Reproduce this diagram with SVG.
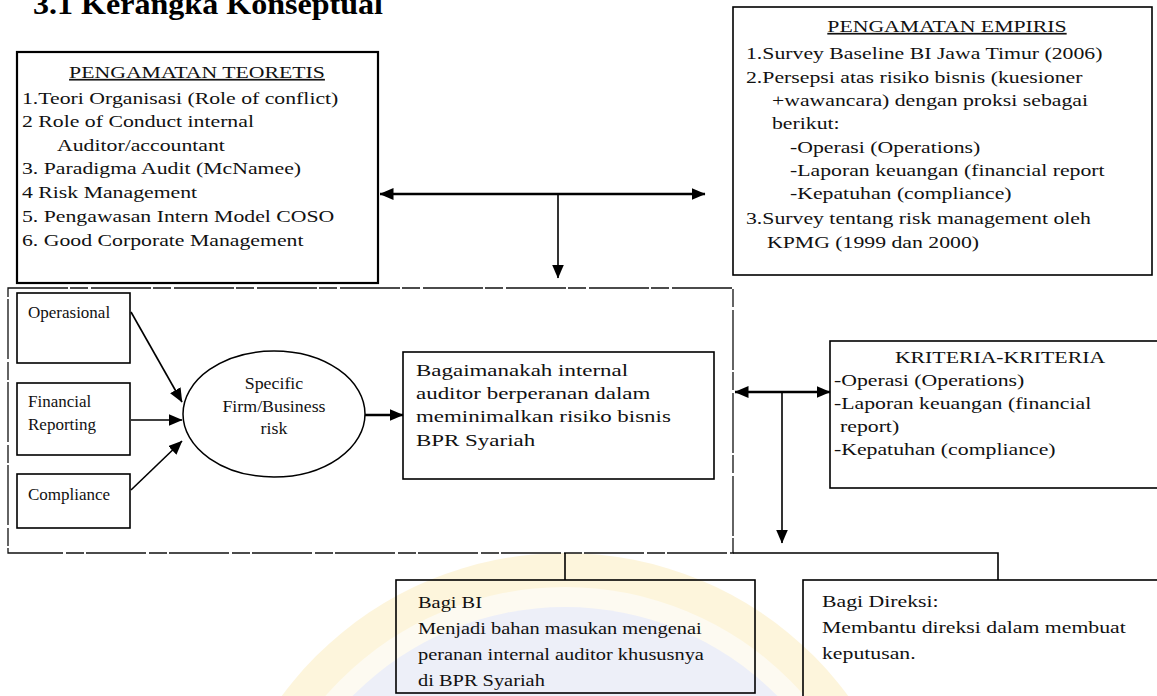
<svg xmlns="http://www.w3.org/2000/svg" width="1157" height="696" viewBox="0 0 1157 696">
  <defs>
    <marker id="arr" markerUnits="userSpaceOnUse" viewBox="0 0 14 12" refX="13.5" refY="6" markerWidth="14" markerHeight="12" orient="auto-start-reverse">
      <path d="M0,0 L14,6 L0,12 Z" fill="#000"/>
    </marker>
    <clipPath id="clipEmp"><rect x="734" y="8" width="417" height="266"/></clipPath>
    <clipPath id="clipKri"><rect x="831" y="342" width="326" height="145"/></clipPath>
    <clipPath id="clipDir"><rect x="803" y="581" width="354" height="115"/></clipPath>
  </defs>
  <style>
    .box { fill: none; stroke: #000; stroke-width: 1.6; }
    .thick { stroke-width: 2.2; }
    .frame { fill: none; stroke: #111; stroke-width: 1.3; stroke-dasharray: 60 2 18 3; }
    .ln { fill: none; stroke: #000; stroke-width: 1.6; }
    .ln2 { fill: none; stroke: #000; stroke-width: 2.4; }
    .t { font-family: "Liberation Serif", "Times New Roman", serif; font-size: 17px; fill: #111;
         transform-box: fill-box; transform-origin: 0% 50%; transform: scaleX(1.28); }
    .s10 { transform: none; }
    .s105 { transform: scaleX(1.05); }
    .s12 { transform: scaleX(1.2); }
    .s13 { transform: scaleX(1.35); }
    .c { text-anchor: middle; transform-origin: 50% 50%; }
    .u { text-decoration: underline; }
    .title { font-family: "Liberation Serif", "Times New Roman", serif; font-size: 30px; font-weight: bold; fill: #000; }
  </style>

  <rect width="1157" height="696" fill="#fff"/>

  <!-- faint seal in the background -->
  <g id="seal" opacity="0.6">
    <circle cx="565" cy="905" r="352" fill="#fcefc6"/>
    <circle cx="565" cy="905" r="318" fill="#fdf8e8"/>
    <circle cx="565" cy="905" r="298" fill="#e2e5f5"/>
  </g>

  <text class="title" x="33" y="14" textLength="350" lengthAdjust="spacingAndGlyphs">3.1 Kerangka Konseptual</text>

  <g id="teoretis">
    <rect class="box thick" x="17" y="52" width="361" height="231"/>
    <text class="t c u" x="197" y="78">PENGAMATAN TEORETIS</text>
    <text class="t" x="22" y="104">1.Teori Organisasi (Role of conflict)</text>
    <text class="t" x="22" y="127.5">2 Role of Conduct internal</text>
    <text class="t" x="57" y="151">Auditor/accountant</text>
    <text class="t" x="22" y="174.5">3. Paradigma Audit (McNamee)</text>
    <text class="t" x="22" y="198">4  Risk Management</text>
    <text class="t" x="22" y="222">5. Pengawasan Intern Model COSO</text>
    <text class="t" x="22" y="246">6. Good Corporate Management</text>
  </g>

  <g id="empiris">
    <rect class="box" x="733" y="7" width="419" height="268"/>
    <g clip-path="url(#clipEmp)">
      <text class="t c u" x="947" y="32">PENGAMATAN EMPIRIS</text>
      <text class="t" x="746" y="59">1.Survey Baseline BI Jawa Timur (2006)</text>
      <text class="t" x="746" y="83">2.Persepsi atas risiko bisnis (kuesioner</text>
      <text class="t" x="772" y="106">+wawancara) dengan proksi sebagai</text>
      <text class="t" x="772" y="129">berikut:</text>
      <text class="t" x="790" y="153">-Operasi (Operations)</text>
      <text class="t" x="790" y="176">-Laporan keuangan (financial report</text>
      <text class="t" x="790" y="199">-Kepatuhan (compliance)</text>
      <text class="t" x="746" y="224">3.Survey tentang risk management oleh</text>
      <text class="t" x="767" y="248">KPMG (1999 dan 2000)</text>
    </g>
  </g>

  <g id="lingkup">
    <rect class="frame" x="8" y="288" width="725" height="265"/>
  </g>

  <g id="operasional">
    <rect class="box" x="17" y="293" width="113" height="70"/>
    <text class="t s10" x="28" y="318">Operasional</text>
  </g>
  <g id="financial">
    <rect class="box" x="17" y="383" width="113" height="72"/>
    <text class="t s10" x="28" y="407">Financial</text>
    <text class="t s10" x="28" y="430">Reporting</text>
  </g>
  <g id="compliance">
    <rect class="box" x="17" y="474" width="113" height="54"/>
    <text class="t s10" x="28" y="500">Compliance</text>
  </g>

  <g id="risk">
    <ellipse cx="274" cy="414" rx="91" ry="63" fill="none" stroke="#000" stroke-width="1.5"/>
    <text class="t c s105" x="274" y="389">Specific</text>
    <text class="t c s105" x="274" y="412">Firm/Business</text>
    <text class="t c s105" x="274" y="434">risk</text>
  </g>

  <g id="peran">
    <rect class="box" x="403" y="352" width="311" height="127"/>
    <text class="t s13" x="416" y="376">Bagaimanakah internal</text>
    <text class="t s13" x="416" y="399">auditor berperanan dalam</text>
    <text class="t s13" x="416" y="422">meminimalkan risiko bisnis</text>
    <text class="t s13" x="416" y="446">BPR Syariah</text>
  </g>

  <g id="kriteria">
    <rect class="box" x="830" y="341" width="340" height="147"/>
    <g clip-path="url(#clipKri)">
      <text class="t c" x="1000" y="363">KRITERIA-KRITERIA</text>
      <text class="t" x="834" y="386">-Operasi (Operations)</text>
      <text class="t" x="834" y="409">-Laporan keuangan (financial</text>
      <text class="t" x="840" y="432">report)</text>
      <text class="t" x="834" y="455">-Kepatuhan (compliance)</text>
    </g>
  </g>

  <g id="bagi-bi">
    <rect class="box" x="396" y="580" width="359" height="113"/>
    <text class="t s12" x="418" y="608">Bagi BI</text>
    <text class="t s12" x="418" y="634">Menjadi bahan masukan mengenai</text>
    <text class="t s12" x="418" y="660">peranan internal auditor khususnya</text>
    <text class="t s12" x="418" y="686">di BPR Syariah</text>
  </g>

  <g id="bagi-direksi">
    <rect class="box" x="803" y="580" width="380" height="130"/>
    <g clip-path="url(#clipDir)">
      <text class="t" x="822" y="607">Bagi Direksi:</text>
      <text class="t" x="822" y="633">Membantu direksi dalam membuat</text>
      <text class="t" x="822" y="659">keputusan.</text>
    </g>
  </g>

  <g id="connectors">
    <line class="ln2" x1="380" y1="194" x2="705" y2="194" marker-start="url(#arr)" marker-end="url(#arr)"/>
    <line class="ln" x1="558" y1="194" x2="558" y2="278" marker-end="url(#arr)"/>
    <line class="ln" x1="131" y1="312" x2="182" y2="402" marker-end="url(#arr)"/>
    <line class="ln" x1="131" y1="420" x2="182" y2="420" marker-end="url(#arr)"/>
    <line class="ln" x1="131" y1="490" x2="182" y2="441" marker-end="url(#arr)"/>
    <line class="ln2" x1="365" y1="415" x2="403" y2="415" marker-end="url(#arr)"/>
    <line class="ln2" x1="735" y1="392" x2="830" y2="392" marker-start="url(#arr)" marker-end="url(#arr)"/>
    <line class="ln" x1="782" y1="392" x2="782" y2="543" marker-end="url(#arr)"/>
    <polyline class="ln" points="733,553 998,553 998,580"/>
    <line class="ln" x1="565" y1="553" x2="565" y2="580"/>
  </g>
</svg>
